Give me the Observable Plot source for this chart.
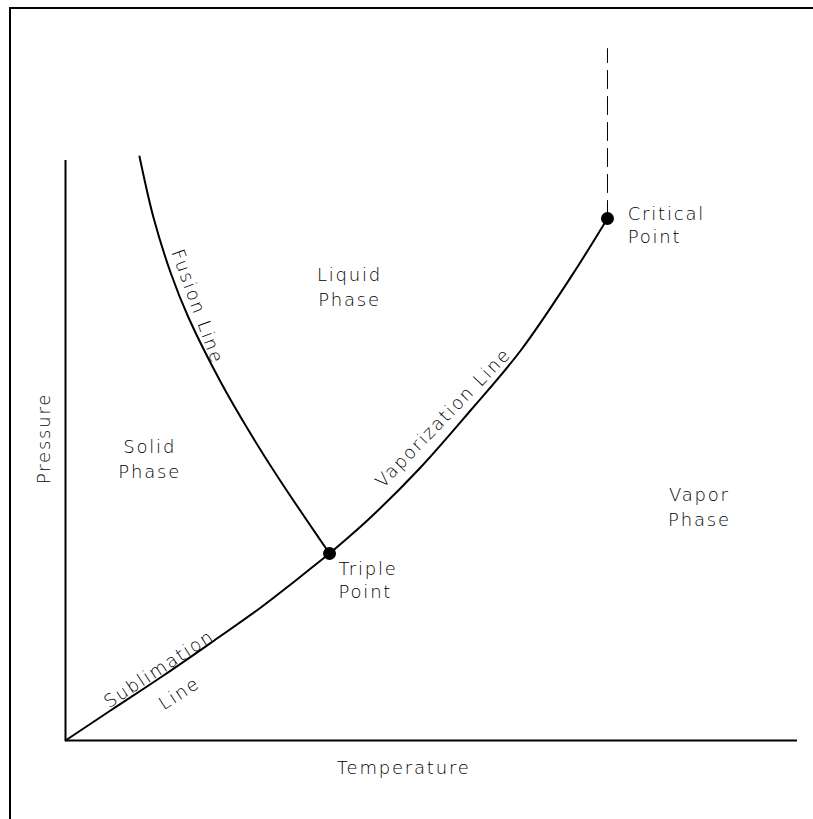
<!DOCTYPE html>
<html>
<head>
<meta charset="utf-8">
<script src="https://cdn.jsdelivr.net/npm/d3@7"></script>
<script src="https://cdn.jsdelivr.net/npm/@observablehq/plot@0.6"></script>
<style>
  html, body { margin: 0; padding: 0; background: #fff; overflow: hidden; }
  #wrap { position: relative; width: 813px; height: 819px; overflow: hidden; }
  #border { position: absolute; left: 9px; top: 7px; width: 900px; height: 900px;
            border-top: 2px solid #000; border-left: 2px solid #000; pointer-events: none; }
  #wrap svg text { letter-spacing: 1.8px; }
</style>
</head>
<body>
<div id="wrap"><div id="border"></div></div>
<script>
// Phase diagram curves (temperature, pressure in arbitrary units 0–100)
const sublimationT = [0, 6.15, 12.98, 19.81, 26.64, 31.15, 36.07];
const sublimationP = [0, 5.17, 10.86, 16.8, 22.9, 27.3, 32.24];

const vaporizationT = [36.07, 41.67, 48.50, 55.33, 62.16, 68.99, 74.04];
const vaporizationP = [32.24, 38.45, 47.07, 56.90, 67.2, 79.8, 90.0];

const fusionT = [36.07, 29.32, 25.27, 21.31, 16.80, 14.40, 12.02, 10.11];
const fusionP = [32.24, 44.83, 52.93, 61.55, 72.93, 80.52, 90.17, 100.69];

const supercriticalT = [74.04, 74.04];
const supercriticalP = [90.0, 119.3];

const pointNames = ["Triple Point", "Critical Point"];
const pointT = [36.07, 74.04];
const pointP = [32.24, 90.0];

// region / curve annotations
const regionLabels = ["Liquid\nPhase", "Solid\nPhase", "Vapor\nPhase"];
const regionT = [38.8, 11.5, 86.6];
const regionP = [78.5, 48.8, 40.5];

const pointLabels = ["Critical\nPoint", "Triple\nPoint"];
const pointLabelT = [76.8, 37.3];
const pointLabelP = [89.05, 27.84];

const curveLabels = ["Fusion Line", "Vaporization Line", "Sublimation", "Line"];
const curveLabelT = [18.0, 51.6, 12.8, 15.57];
const curveLabelP = [74.8, 55.6, 12.33, 8.1];
const curveLabelAngle = [70, -46, -33, -33];

const xAxisLabel = "Temperature";
const yAxisLabel = "Pressure";

const zip = (xs, ys) => xs.map((x, i) => ({x, y: ys[i]}));
const sublimation = zip(sublimationT, sublimationP);
const vaporization = zip(vaporizationT, vaporizationP);
const fusion = zip(fusionT, fusionP);
const supercritical = zip(supercriticalT, supercriticalP);
const points = pointNames.map((n, i) => ({name: n, x: pointT[i], y: pointP[i]}));
const regions = regionLabels.map((t, i) => ({text: t, x: regionT[i], y: regionP[i]}));
const ptLabels = pointLabels.map((t, i) => ({text: t, x: pointLabelT[i], y: pointLabelP[i]}));
const cLabels = curveLabels.map((t, i) => ({text: t, x: curveLabelT[i], y: curveLabelP[i], a: curveLabelAngle[i]}));

const font = "'DejaVu Sans', sans-serif";
const txt = {fontFamily: font, fontSize: 18, fontWeight: 200, fill: "#000"};

const chart = Plot.plot({
  width: 813,
  height: 819,
  marginLeft: 65,
  marginRight: 16,
  marginTop: 20,
  marginBottom: 79,
  x: {domain: [0, 100], axis: null},
  y: {domain: [0, 124.14], axis: null},
  marks: [
    Plot.ruleX([0], {y1: 0, y2: 100, stroke: "#000", strokeWidth: 2}),
    Plot.ruleY([0], {x1: 0, x2: 100, stroke: "#000", strokeWidth: 2}),
    Plot.line(sublimation, {x: "x", y: "y", curve: "catmull-rom", stroke: "#000", strokeWidth: 2}),
    Plot.line(vaporization, {x: "x", y: "y", curve: "catmull-rom", stroke: "#000", strokeWidth: 2}),
    Plot.line(fusion, {x: "x", y: "y", curve: "catmull-rom", stroke: "#000", strokeWidth: 2}),
    Plot.line(supercritical, {x: "x", y: "y", stroke: "#000", strokeWidth: 1, strokeDasharray: "18,8"}),
    Plot.dot(points, {x: "x", y: "y", r: 6.5, fill: "#000", stroke: null}),
    Plot.text(regions, {x: "x", y: "y", text: "text", lineHeight: 1.38, ...txt}),
    Plot.text(ptLabels, {x: "x", y: "y", text: "text", textAnchor: "start", lineHeight: 1.3, ...txt}),
    Plot.text(cLabels, {x: "x", y: "y", text: "text", rotate: "a", ...txt}),
    Plot.text([xAxisLabel], {x: 46.2, y: -4.83, text: d => d, ...txt}),
    Plot.text([yAxisLabel], {x: -2.87, y: 52.07, text: d => d, rotate: -90, ...txt})
  ]
});
chart.style.position = "absolute";
chart.style.left = "0px";
chart.style.top = "0px";
document.getElementById("wrap").prepend(chart);
</script>
</body>
</html>
